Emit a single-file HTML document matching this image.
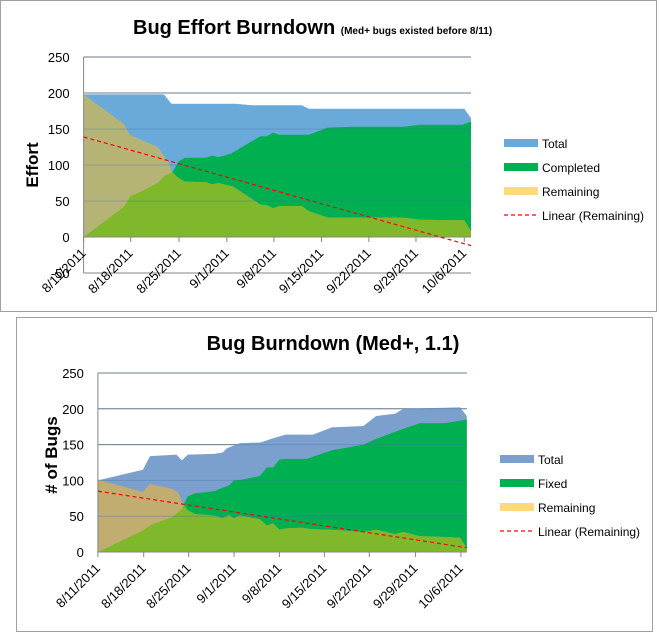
<!DOCTYPE html>
<html><head><meta charset="utf-8"><style>
html,body{margin:0;padding:0;background:#fff;}
svg{display:block;font-family:"Liberation Sans",sans-serif;}
</style></head><body>
<svg id="s" width="659" height="636" xmlns="http://www.w3.org/2000/svg"></svg>
<script>
const S=document.getElementById('s');let h='';
function pts(a,f){return a.map(p=>(p[0]/2.38).toFixed(1)+','+f(p[1]).toFixed(1)).join(' ');}
function chart(o){
 const f=v=>o.y0-v*o.k;
 const x0=o.xs[0]/2.38,x1=o.xs[1]/2.38;
 const base=[[o.xs[1],0],[o.xs[0],0]];
 for(const v of o.grid){h+=`<line x1="${x0}" x2="${x1}" y1="${f(v)}" y2="${f(v)}" stroke="#868686" stroke-width="1"/>`;
  h+=`<text x="${x0-14}" y="${f(v)+5}" font-size="13" text-anchor="end" fill="#000">${v}</text>`;}
 h+=`<polygon points="${pts(o.total.concat(base),f)}" fill="${o.cT}"/>`;
 h+=`<polygon points="${pts(o.fixed.concat(base),f)}" fill="#00b050"/>`;
 h+=`<clipPath id="c${o.id}"><polygon points="${pts(o.fixed.concat(base),f)}"/></clipPath>`;
 h+=`<polygon points="${pts(o.rem.concat(base),f)}" fill="${o.cO}"/>`;
 h+=`<polygon points="${pts(o.rem.concat(base),f)}" fill="#80b82c" clip-path="url(#c${o.id})"/>`;
 for(const v of o.grid){if(v>0)h+=`<line x1="${x0}" x2="${x1}" y1="${f(v)}" y2="${f(v)}" stroke="#3a6fa0" stroke-opacity="0.35" stroke-width="1"/>`;}
 h+=`<line x1="${x0}" x2="${x0}" y1="${f(o.grid[0])}" y2="${f(o.grid[o.grid.length-1])}" stroke="#868686"/>`;
 h+=`<line x1="${x0}" x2="${x1}" y1="${f(0)}" y2="${f(0)}" stroke="#868686"/>`;
 const lbl=['8/11/2011','8/18/2011','8/25/2011','9/1/2011','9/8/2011','9/15/2011','9/22/2011','9/29/2011','10/6/2011'];
 o.ticks.forEach((t,i)=>{const x=t/2.38;h+=`<line x1="${x}" x2="${x}" y1="${f(0)}" y2="${f(0)+5}" stroke="#868686"/>`;
  h+=`<text transform="translate(${x+3},${f(0)+17}) rotate(-45)" font-size="13" text-anchor="end">${lbl[i]}</text>`;});
 h+=`<line x1="${x0}" y1="${f(o.tr[0])}" x2="${x1}" y2="${f(o.tr[1])}" stroke="#ff0000" stroke-width="1.2" stroke-dasharray="4,3"/>`;
 const L=o.leg;const cols=[o.cT,'#00b050','#ffd97a'];
 L.names.forEach((n,i)=>{const y=L.y+i*24;
  if(i<3)h+=`<rect x="${L.x}" y="${y-4}" width="34" height="8" fill="${cols[i]}"/>`;
  else h+=`<line x1="${L.x}" x2="${L.x+34}" y1="${y}" y2="${y}" stroke="#ff0000" stroke-width="1.2" stroke-dasharray="4,3"/>`;
  h+=`<text x="${L.x+38}" y="${y+5}" font-size="12">${n}</text>`;});
}
h+=`<rect x="0.5" y="0.5" width="656" height="311" fill="#fff" stroke="#a0a0a0"/>`;
h+=`<rect x="16.5" y="317.5" width="636" height="314" fill="#fff" stroke="#a0a0a0"/>`;
h+=`<text x="133" y="34" font-size="20" font-weight="bold">Bug Effort Burndown <tspan font-size="10">(Med+ bugs existed before 8/11)</tspan></text>`;
h+=`<text transform="translate(38,165) rotate(-90)" font-size="17" font-weight="bold" text-anchor="middle">Effort</text>`;
h+=`<text x="333" y="350" font-size="20" font-weight="bold" text-anchor="middle">Bug Burndown (Med+, 1.1)</text>`;
h+=`<text transform="translate(57,455) rotate(-90)" font-size="17" font-weight="bold" text-anchor="middle"># of Bugs</text>`;
chart({id:1,y0:237,k:180/250,xs:[199,1121],grid:[250,200,150,100,50,0,-50],cT:'#6aaadb',cO:'#b5b476',
 total:[[199,198],[390,198],[408,185],[560,185],[600,183],[718,183],[735,178],[1105,178],[1121,165]],
 fixed:[[199,0],[295,42],[310,57],[325,60],[375,75],[392,85],[410,90],[425,105],[440,110],[490,110],[505,113],[520,111],[550,116],[620,140],[635,140],[650,145],[665,142],[735,142],[780,152],[840,153],[960,153],[1000,156],[1100,156],[1121,160]],
 rem:[[199,198],[295,157],[310,141],[325,138],[375,125],[400,105],[410,90],[425,82],[440,77],[490,76],[505,73],[520,75],[555,70],[620,45],[635,44],[650,40],[665,43],[718,43],[735,36],[780,27],[960,27],[1000,24],[1105,23],[1121,8]],
 ticks:[199,311,426,540,652,765,878,990,1105],tr:[139,-12],leg:{x:504,y:143,names:['Total','Completed','Remaining','Linear (Remaining)']}});
chart({id:2,y0:552,k:179/250,xs:[233,1111],grid:[250,200,150,100,50,0],cT:'#7ba0cd',cO:'#c1ad70',
 total:[[233,100],[340,115],[357,134],[420,136],[433,128],[447,136],[510,137],[530,139],[540,145],[570,152],[620,153],[650,159],[680,164],[745,164],[790,174],[865,176],[895,190],[940,193],[960,200],[1095,202],[1111,190]],
 fixed:[[233,0],[340,30],[360,38],[410,49],[433,60],[447,78],[465,82],[510,85],[530,90],[545,93],[557,100],[575,101],[618,106],[635,118],[650,118],[665,129],[680,130],[730,130],[790,142],[865,150],[895,158],[960,172],[1000,180],[1060,180],[1111,185]],
 rem:[[233,101],[340,84],[357,95],[410,88],[425,82],[433,70],[447,58],[465,53],[510,51],[530,47],[545,52],[557,47],[570,51],[618,46],[635,37],[650,40],[665,31],[680,33],[720,34],[740,32],[790,31],[865,28],[895,31],[940,25],[960,28],[1000,22],[1060,21],[1095,20],[1111,5]],
 ticks:[233,342,449,557,665,772,879,989,1097],tr:[85,6],leg:{x:500,y:459,names:['Total','Fixed','Remaining','Linear (Remaining)']}});
S.innerHTML=h;
</script>
</body></html>
